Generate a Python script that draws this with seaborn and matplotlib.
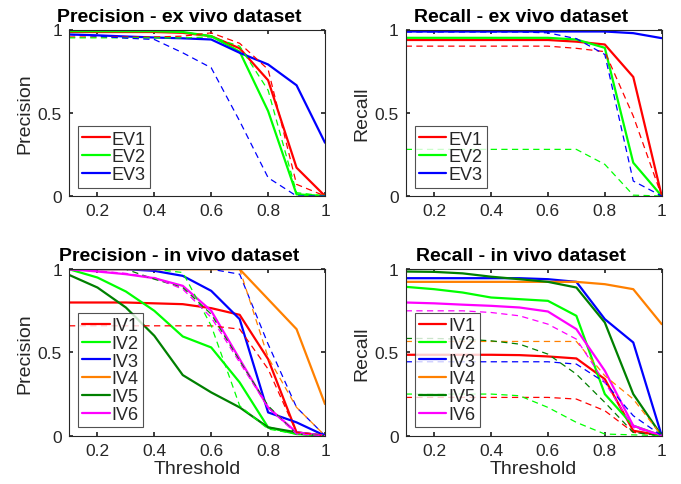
import matplotlib
matplotlib.use("Agg")
import matplotlib.pyplot as plt
import seaborn as sns

# thresholds shared by all panels
thresholds = [0.1, 0.2, 0.3, 0.4, 0.5, 0.6, 0.7, 0.8, 0.9, 1.0]

# ex vivo - precision (solid / dashed)
ev_names = ["EV1", "EV2", "EV3"]
ev_prec = [
    [0.985, 0.985, 0.985, 0.985, 0.98, 0.96, 0.887, 0.695, 0.17, 0.0],
    [0.99, 0.99, 0.99, 0.99, 0.985, 0.96, 0.867, 0.51, 0.01, 0.0],
    [0.97, 0.965, 0.958, 0.952, 0.947, 0.94, 0.86, 0.79, 0.665, 0.32],
]
ev_prec_dash = [
    [0.955, 0.955, 0.955, 0.955, 0.96, 0.98, 0.917, 0.76, 0.07, 0.0],
    [0.95, 0.95, 0.95, 0.95, 0.95, 0.955, 0.90, 0.635, 0.02, 0.0],
    [0.97, 0.96, 0.948, 0.94, 0.86, 0.77, 0.45, 0.11, 0.0, 0.0],
]

# ex vivo - recall
ev_rec = [
    [0.937, 0.937, 0.937, 0.937, 0.937, 0.937, 0.927, 0.91, 0.715, 0.0],
    [0.95, 0.95, 0.95, 0.95, 0.95, 0.95, 0.94, 0.89, 0.20, 0.0],
    [0.988, 0.988, 0.988, 0.988, 0.988, 0.988, 0.988, 0.988, 0.978, 0.948],
]
ev_rec_dash = [
    [0.90, 0.90, 0.90, 0.90, 0.90, 0.90, 0.887, 0.867, 0.48, 0.0],
    [0.28, 0.28, 0.28, 0.28, 0.28, 0.28, 0.28, 0.19, 0.005, 0.0],
    [0.985, 0.985, 0.985, 0.985, 0.985, 0.98, 0.945, 0.85, 0.09, 0.0],
]

# in vivo - precision
iv_names = ["IV1", "IV2", "IV3", "IV4", "IV5", "IV6"]
iv_prec = [
    [0.80, 0.80, 0.80, 0.795, 0.79, 0.766, 0.726, 0.46, 0.02, 0.0],
    [1.0, 0.95, 0.866, 0.75, 0.596, 0.53, 0.32, 0.05, 0.01, 0.0],
    [1.0, 1.0, 1.0, 0.99, 0.96, 0.87, 0.70, 0.14, 0.08, 0.0],
    [1.0, 1.0, 1.0, 1.0, 1.0, 1.0, 1.0, 0.82, 0.64, 0.19],
    [0.966, 0.89, 0.77, 0.60, 0.364, 0.26, 0.17, 0.05, 0.02, 0.0],
    [1.0, 0.986, 0.97, 0.946, 0.90, 0.75, 0.46, 0.17, 0.02, 0.0],
]
iv_prec_dash = [
    [0.66, 0.66, 0.66, 0.66, 0.66, 0.66, 0.64, 0.40, 0.02, 0.0],
    [1.0, 1.0, 1.0, 1.0, 0.98, 0.66, 0.18, 0.04, 0.01, 0.0],
    [1.0, 1.0, 1.0, 1.0, 1.0, 1.0, 0.97, 0.55, 0.17, 0.0],
    [1.0, 1.0, 1.0, 1.0, 1.0, 1.0, 1.0, 0.47, 0.17, 0.0],
    [1.0, 1.0, 1.0, 0.94, 0.89, 0.73, 0.45, 0.18, 0.01, 0.0],
    [1.0, 0.99, 0.975, 0.95, 0.88, 0.71, 0.44, 0.17, 0.01, 0.0],
]

# in vivo - recall
iv_rec = [
    [0.486, 0.486, 0.486, 0.486, 0.484, 0.476, 0.464, 0.34, 0.03, 0.0],
    [0.894, 0.88, 0.86, 0.83, 0.82, 0.81, 0.72, 0.25, 0.06, 0.0],
    [0.946, 0.946, 0.946, 0.946, 0.946, 0.94, 0.924, 0.70, 0.56, 0.0],
    [0.924, 0.924, 0.924, 0.924, 0.924, 0.924, 0.924, 0.91, 0.88, 0.67],
    [0.986, 0.984, 0.975, 0.955, 0.94, 0.924, 0.89, 0.68, 0.25, 0.0],
    [0.80, 0.795, 0.787, 0.78, 0.77, 0.746, 0.64, 0.39, 0.06, 0.0],
]
iv_rec_dash = [
    [0.23, 0.23, 0.23, 0.23, 0.23, 0.23, 0.22, 0.15, 0.02, 0.0],
    [0.25, 0.25, 0.25, 0.25, 0.24, 0.17, 0.08, 0.01, 0.005, 0.0],
    [0.444, 0.444, 0.444, 0.444, 0.444, 0.444, 0.43, 0.32, 0.12, 0.0],
    [0.566, 0.566, 0.566, 0.566, 0.566, 0.566, 0.566, 0.36, 0.22, 0.0],
    [0.584, 0.584, 0.58, 0.57, 0.55, 0.49, 0.37, 0.20, 0.02, 0.0],
    [0.75, 0.75, 0.75, 0.74, 0.72, 0.67, 0.58, 0.32, 0.05, 0.0],
]

ev_colors = ["#ff0000", "#00ff00", "#0000ff"]
iv_colors = ["#ff0000", "#00ff00", "#0000ff", "#ff8000", "#008000", "#ff00ff"]

sns.set_theme(style="ticks")
plt.rcParams["font.family"] = ["Liberation Sans", "DejaVu Sans"]
dark = "#262626"
plt.rcParams.update({
    "axes.edgecolor": dark,
    "axes.linewidth": 0.8,
    "xtick.color": dark,
    "ytick.color": dark,
    "xtick.labelcolor": dark,
    "ytick.labelcolor": dark,
    "axes.labelcolor": dark,
})

fig = plt.figure(figsize=(6.81, 4.85), dpi=100)
W, H = 681.0, 485.0
aw, ah = 256 / W, 166.5 / H
axes = {
    "pe": fig.add_axes([69 / W, 1 - 197 / H, aw, ah]),
    "re": fig.add_axes([405.7 / W, 1 - 197 / H, aw, ah]),
    "pi": fig.add_axes([69 / W, 1 - 436.7 / H, aw, ah]),
    "ri": fig.add_axes([405.7 / W, 1 - 436.7 / H, aw, ah]),
}


def draw(ax, names, colors, solid, dashed, title, ylabel, tx, xlabel=None):
    handles = []
    for name, c, ys in zip(names, colors, solid):
        sns.lineplot(x=thresholds, y=ys, ax=ax, color=c, linewidth=1.6,
                     legend=False)
        handles.append(ax.lines[-1])
        handles[-1].set_label(name)
    for c, ys in zip(colors, dashed):
        sns.lineplot(x=thresholds, y=ys, ax=ax, color=c, linewidth=0.9,
                     legend=False)
        ax.lines[-1].set_linestyle((0, (5, 3.5)))
    ax.set_xlim(0.1, 1.0)
    ax.set_ylim(0, 1)
    ax.set_xticks([0.2, 0.4, 0.6, 0.8, 1.0])
    ax.set_xticklabels(["0.2", "0.4", "0.6", "0.8", "1"])
    ax.set_yticks([0, 0.5, 1])
    ax.set_yticklabels(["0", "0.5", "1"])
    ax.tick_params(direction="in", top=True, right=True, length=3,
                   labelsize=12.5, pad=5)
    for s in ax.spines.values():
        s.set_visible(True)
    ax.text(tx, 1.03, title, transform=ax.transAxes, ha="center",
            va="bottom", fontsize=14, fontweight="bold", color="black")
    ax.set_ylabel(ylabel, fontsize=14, labelpad=3)
    if xlabel:
        ax.set_xlabel(xlabel, fontsize=14, labelpad=2)
    else:
        ax.set_xlabel("")
    leg = ax.legend(handles=handles, loc="lower left",
                    bbox_to_anchor=(0.035, 0.05), fontsize=13,
                    frameon=True, fancybox=False, handlelength=1.5,
                    handletextpad=0.1, labelspacing=0.04, borderpad=0.25,
                    borderaxespad=0)
    leg.get_frame().set_edgecolor(dark)
    leg.get_frame().set_linewidth(0.8)


draw(axes["pe"], ev_names, ev_colors, ev_prec, ev_prec_dash,
     "Precision - ex vivo dataset", "Precision", 0.43)
draw(axes["re"], ev_names, ev_colors, ev_rec, ev_rec_dash,
     "Recall - ex vivo dataset", "Recall", 0.45)
draw(axes["pi"], iv_names, iv_colors, iv_prec, iv_prec_dash,
     "Precision - in vivo dataset", "Precision", 0.43, "Threshold")
draw(axes["ri"], iv_names, iv_colors, iv_rec, iv_rec_dash,
     "Recall - in vivo dataset", "Recall", 0.45, "Threshold")

fig.savefig("out.png", dpi=100, facecolor="white")
